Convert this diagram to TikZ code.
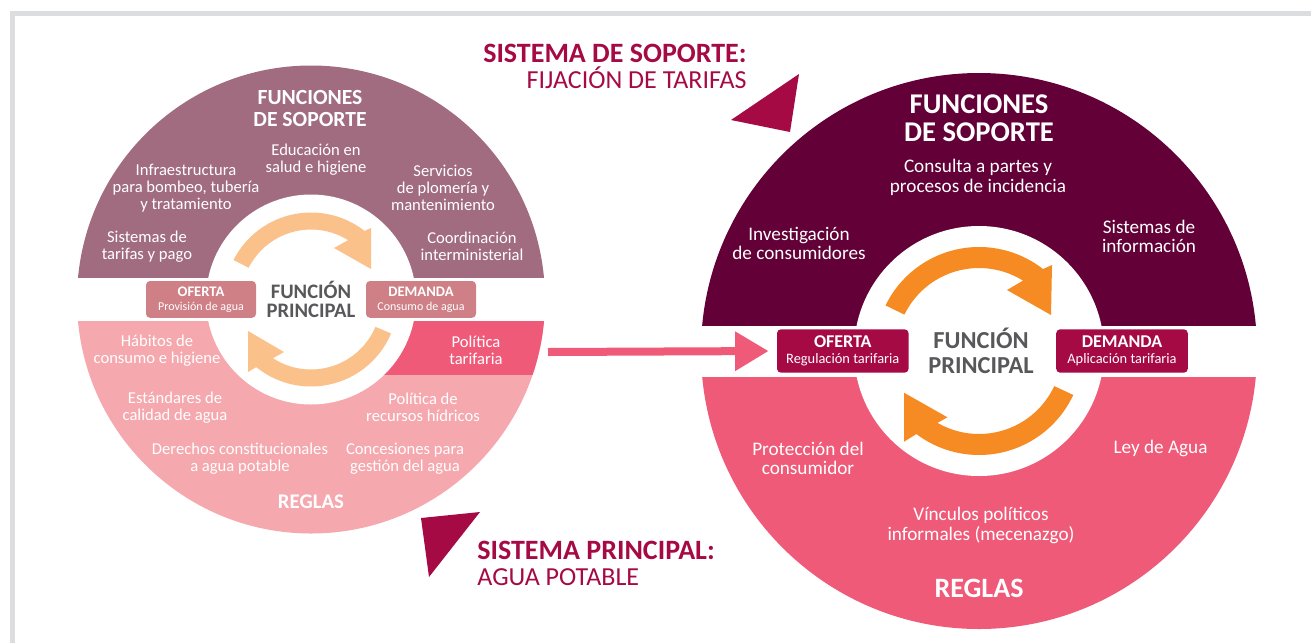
\documentclass[tikz,border=0pt]{standalone}
\usepackage{fontspec}
\setmainfont{Carlito}
\usetikzlibrary{arrows.meta,positioning,calc}
\definecolor{mauve}{RGB}{161,108,128}
\definecolor{rosa}{RGB}{245,168,174}
\definecolor{fucsia}{RGB}{239,90,120}
\definecolor{vino}{RGB}{98,0,55}
\definecolor{carmin}{RGB}{165,10,68}
\definecolor{rosabox}{RGB}{207,128,134}
\definecolor{naranjaclaro}{RGB}{251,193,138}
\definecolor{naranja}{RGB}{245,139,34}
\definecolor{gristexto}{RGB}{88,88,90}
\definecolor{marco}{RGB}{220,221,223}

\begin{document}
\begin{tikzpicture}[
    x=0.5pt, y=-0.5pt,
    ltext/.style={text=white, align=center, inner sep=0pt, font=\fontsize{8.3}{8.5}\selectfont},
    rtext/.style={text=white, align=center, inner sep=0pt, font=\fontsize{9.6}{9.6}\selectfont},
    lbox/.style={fill=rosabox, rounded corners=2pt, minimum width=55pt, minimum height=18.4pt, inner sep=0pt, text=white, align=center, font=\fontsize{7.3}{6.9}\selectfont},
    rbox/.style={fill=carmin, rounded corners=2pt, minimum width=65.8pt, minimum height=21.7pt, inner sep=0pt, text=white, align=center, font=\fontsize{9}{8}\selectfont},
    principal/.style={text=gristexto, align=center, inner sep=0pt},
    titulo/.style={text=carmin, inner sep=0pt, font=\fontsize{13}{13}\selectfont},
    pinkarrow/.style={draw=fucsia, line width=4pt, -{Triangle[length=16.75pt,width=18.7pt]}}
]
    \useasboundingbox (0,0) rectangle (1311,643);
    \draw[marco, line width=2.5pt] (12.5,643) -- (12.5,13.5) -- (1311,13.5);

    % sistema principal (izquierda)
    \coordinate (lc) at (311,299.5);
    \begin{scope}
        \clip (0,0) rectangle (1311,277);
        \fill[mauve] (lc) circle (234);
    \end{scope}
    \begin{scope}
        \clip (0,321) rectangle (1311,643);
        \fill[rosa] (lc) circle (234);
        \clip (311,321) rectangle (600,374);
        \fill[fucsia] (lc) circle (234);
    \end{scope}
    \fill[white] (lc) circle (105);
    \fill[naranjaclaro] ([shift={(207:87)}]lc) arc[start angle=207, end angle=308, radius=87]
        -- (371,228) -- (371,269) -- (334,248) -- ([shift={(302:70)}]lc)
        arc[start angle=302, end angle=207, radius=70] -- cycle;
    \fill[naranjaclaro] ([shift={(23:87)}]lc) arc[start angle=23, end angle=129, radius=87]
        -- (248,372) -- (248,331) -- (284,352) -- ([shift={(123:70)}]lc)
        arc[start angle=123, end angle=23, radius=70] -- cycle;

    \node[ltext, font=\fontsize{10.8}{11.2}\selectfont\bfseries] (lfun) at (310,108.5) {FUNCIONES\\DE SOPORTE};
    \node[ltext] (ledu) at (316,160) {Educación en\\salud e higiene};
    \node[ltext] (linf) at (186,188) {Infraestructura\\para bombeo, tubería\\y tratamiento};
    \node[ltext] (lser) at (443,188) {Servicios\\de plomería y\\mantenimiento};
    \node[ltext] (ltar) at (147,246.5) {Sistemas de\\tarifas y pago};
    \node[ltext] (lcoo) at (472,246.5) {Coordinación\\interministerial};
    \node[lbox] (lofe) at (201,299.4) {\textbf{OFERTA}\\{\fontsize{6}{6}\selectfont Provisión de agua}};
    \node[lbox] (ldem) at (421,299.4) {\textbf{DEMANDA}\\{\fontsize{6}{6}\selectfont Consumo de agua}};
    \node[principal, font=\fontsize{10.3}{9.4}\selectfont\bfseries] (lfp) at (311,299.5) {FUNCIÓN\\PRINCIPAL};
    \node[ltext] (lhab) at (157,350.5) {Hábitos de\\consumo e higiene};
    \node[ltext] (lpol) at (476,350.5) {Política\\tarifaria};
    \node[ltext] (lest) at (175,407.5) {Estándares de\\calidad de agua};
    \node[ltext] (lrec) at (423,407.5) {Política de\\recursos hídricos};
    \node[ltext] (lder) at (240,458.5) {Derechos constitucionales\\a agua potable};
    \node[ltext] (lcon) at (405,458.5) {Concesiones para\\gestión del agua};
    \node[ltext, font=\fontsize{10.4}{10.4}\selectfont\bfseries] (lreg) at (311,502) {REGLAS};

    % sistema de soporte (derecha)
    \coordinate (rc) at (979,351);
    \begin{scope}
        \clip (0,0) rectangle (1311,325);
        \fill[vino] (rc) circle (278);
    \end{scope}
    \begin{scope}
        \clip (0,377) rectangle (1311,643);
        \fill[fucsia] (rc) circle (278);
    \end{scope}
    \fill[white] (rc) circle (125);
    \fill[naranja] ([shift={(206:104)}]rc) arc[start angle=206, end angle=308, radius=104]
        -- (1052,265) -- (1051,315) -- (1007,290) -- ([shift={(302:83)}]rc)
        arc[start angle=302, end angle=206, radius=83] -- cycle;
    \fill[naranja] ([shift={(25:104)}]rc) arc[start angle=25, end angle=127, radius=104]
        -- (904,441.7) -- (904,392.7) -- (947.4,417.3) -- ([shift={(120:83)}]rc)
        arc[start angle=120, end angle=25, radius=83] -- cycle;

    \node[rtext, font=\fontsize{14.3}{13.6}\selectfont\bfseries] (rfun) at (979,118.3) {FUNCIONES\\DE SOPORTE};
    \node[rtext] (rcon) at (978,177.3) {Consulta a partes y\\procesos de incidencia};
    \node[rtext] (rinv) at (799,243.3) {Investigación\\de consumidores};
    \node[rtext] (rsis) at (1149,236.7) {Sistemas de\\información};
    \node[rbox] (rofe) at (842.8,351) {\textbf{OFERTA}\\{\fontsize{7.2}{7.2}\selectfont Regulación tarifaria}};
    \node[rbox] (rdem) at (1122,351) {\textbf{DEMANDA}\\{\fontsize{7.2}{7.2}\selectfont Aplicación tarifaria}};
    \node[principal, font=\fontsize{12.2}{12.2}\selectfont\bfseries] (rfp) at (981,351) {FUNCIÓN\\PRINCIPAL};
    \node[rtext] (rpro) at (808,458) {Protección del\\consumidor};
    \node[rtext] (rley) at (1160.5,448) {Ley de Agua};
    \node[rtext] (rvin) at (981,525.5) {Vínculos políticos\\informales (mecenazgo)};
    \node[rtext, font=\fontsize{14}{14}\selectfont\bfseries] (rreg) at (979,588) {REGLAS};

    % titulos y triangulos
    \node[titulo, anchor=east, align=right] (tsop) at (747,66.5) {{\fontsize{14}{13}\selectfont\bfseries SISTEMA DE SOPORTE:}\\FIJACIÓN DE TARIFAS};
    \node[titulo, anchor=west, align=left] (tpri) at (477,563.5) {{\fontsize{14}{13}\selectfont\bfseries SISTEMA PRINCIPAL:}\\AGUA POTABLE};
    \fill[carmin] (799,74) -- (731,120) -- (790,132) -- cycle;
    \fill[carmin] (421,518) -- (480,512) -- (429,577) -- cycle;

    \coordinate (salida) at (548,352);
    \draw[pinkarrow, shorten >=4pt] (salida) -- (rofe.west);
\end{tikzpicture}
\end{document}
